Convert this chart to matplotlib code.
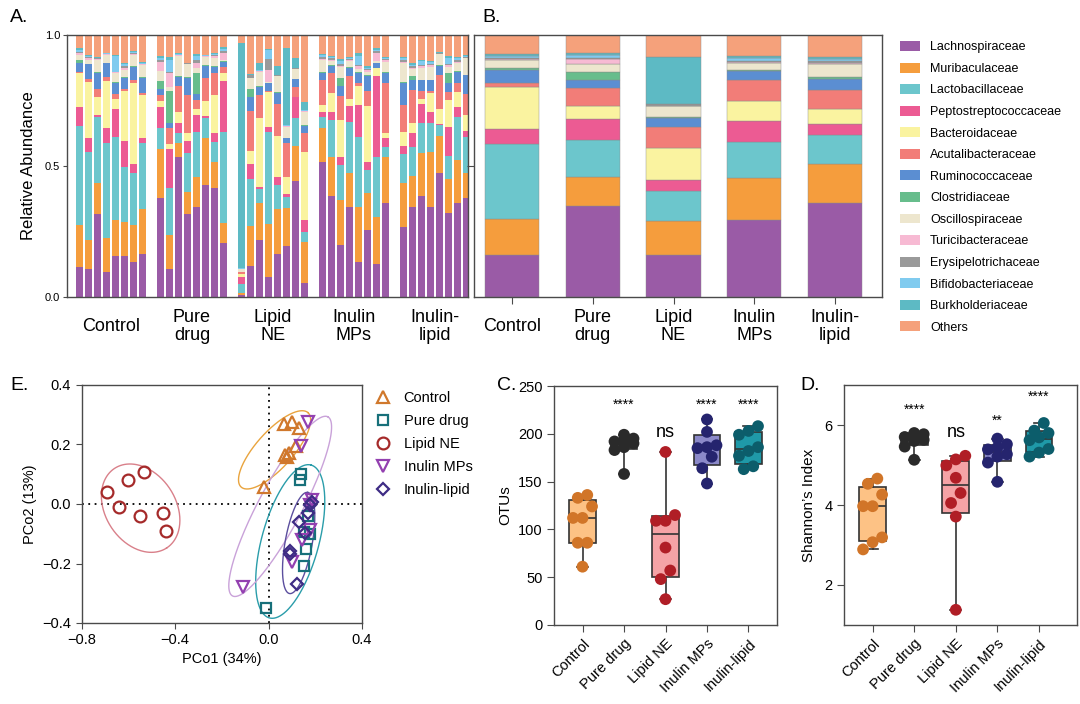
import numpy as np
import matplotlib
matplotlib.use("Agg")
import matplotlib.pyplot as plt
from matplotlib.patches import Patch
from matplotlib.lines import Line2D

plt.rcParams['font.family'] = ['Liberation Sans', 'DejaVu Sans']

# ---------------- data ----------------
families = ['Lachnospiraceae', 'Muribaculaceae', 'Lactobacillaceae', 'Peptostreptococcaceae',
            'Bacteroidaceae', 'Acutalibacteraceae', 'Ruminococcaceae', 'Clostridiaceae',
            'Oscillospiraceae', 'Turicibacteraceae', 'Erysipelotrichaceae', 'Bifidobacteriaceae',
            'Burkholderiaceae', 'Others']
fam_colors = ['#9A5BA6', '#F59D3D', '#6CC6CC', '#EC5B93', '#FAF3A0', '#F27D78', '#5B8ED2',
              '#67BD8C', '#EDE6CE', '#F7BAD3', '#9A9A9A', '#80CBEF', '#5DBAC4', '#F5A17B']

groups = ['Control', 'Pure drug', 'Lipid NE', 'Inulin MPs', 'Inulin-lipid']
groups_2line = ['Control', 'Pure\ndrug', 'Lipid\nNE', 'Inulin\nMPs', 'Inulin-\nlipid']

# A: per sample, upper edge of each family in the stack (Lachnospiraceae .. Burkholderiaceae), Others up to 1
ctrl_cum = [
    [.113, .275, .653, .726, .854, .860, .892, .905, .924, .930, .936, .942, .950],
    [.108, .218, .555, .606, .822, .831, .888, .890, .905, .911, .916, .920, .924],
    [.316, .434, .686, .695, .765, .793, .856, .858, .905, .908, .911, .914, .917],
    [.094, .224, .587, .644, .826, .841, .892, .894, .924, .926, .929, .931, .933],
    [.156, .294, .612, .716, .754, .774, .818, .820, .854, .857, .860, .918, .924],
    [.156, .288, .497, .595, .786, .795, .835, .841, .866, .875, .882, .888, .894],
    [.135, .275, .475, .506, .816, .828, .879, .881, .924, .928, .932, .936, .940],
    [.164, .335, .587, .606, .771, .777, .835, .838, .885, .888, .891, .894, .898],
]
drug_cum = [
    [.377, .564, .644, .724, .749, .771, .793, .826, .864, .896, .903, .912, .920],
    [.107, .237, .415, .565, .583, .644, .665, .788, .800, .854, .860, .905, .917],
    [.536, .587, .625, .665, .707, .805, .841, .843, .920, .922, .925, .927, .930],
    [.317, .402, .548, .595, .625, .771, .837, .839, .888, .890, .892, .893, .894],
    [.345, .459, .631, .695, .716, .752, .775, .856, .875, .894, .905, .918, .927],
    [.427, .606, .682, .691, .749, .835, .882, .884, .915, .918, .920, .922, .924],
    [.415, .517, .593, .625, .771, .854, .879, .881, .911, .920, .925, .929, .933],
    [.205, .284, .631, .826, .854, .877, .898, .900, .905, .933, .940, .948, .955],
]
lipid_cum = [
    [.008, .014, .050, .078, .087, .094, .096, .097, .106, .107, .108, .109, .968],
    [.119, .272, .451, .508, .559, .710, .764, .792, .834, .836, .847, .849, .852],
    [.218, .357, .411, .421, .682, .771, .803, .805, .860, .862, .864, .866, .894],
    [.077, .278, .630, .649, .783, .785, .817, .818, .822, .866, .910, .942, .948],
    [.164, .335, .427, .459, .614, .737, .780, .782, .843, .845, .847, .849, .882],
    [.195, .341, .383, .392, .459, .586, .606, .608, .650, .652, .654, .656, .949],
    [.444, .576, .682, .765, .765, .800, .831, .833, .869, .871, .873, .875, .911],
    [.052, .211, .249, .294, .555, .625, .654, .656, .707, .709, .711, .713, .746],
]
mps_cum = [
    [.517, .644, .686, .707, .733, .828, .856, .858, .905, .910, .916, .922, .927],
    [.387, .536, .676, .707, .777, .854, .882, .884, .902, .906, .911, .916, .920],
    [.198, .370, .504, .536, .676, .767, .805, .835, .879, .883, .888, .902, .908],
    [.345, .472, .667, .729, .754, .844, .875, .877, .902, .906, .910, .914, .917],
    [.135, .345, .612, .733, .805, .818, .855, .857, .870, .880, .885, .920, .930],
    [.256, .396, .485, .514, .729, .788, .845, .847, .860, .865, .870, .875, .880],
    [.125, .307, .536, .845, .873, .875, .892, .894, .900, .930, .938, .944, .949],
    [.358, .536, .574, .606, .625, .815, .856, .858, .898, .903, .908, .912, .915],
]
inl_cum = [
    [.266, .434, .546, .578, .631, .733, .818, .820, .892, .897, .905, .912, .917],
    [.345, .462, .574, .625, .663, .790, .828, .844, .869, .875, .880, .886, .892],
    [.386, .548, .665, .737, .754, .788, .828, .830, .873, .880, .885, .900, .905],
    [.345, .555, .665, .707, .777, .788, .828, .830, .879, .884, .890, .896, .902],
    [.475, .614, .656, .660, .716, .847, .882, .884, .927, .929, .931, .933, .936],
    [.322, .449, .538, .648, .752, .784, .815, .854, .879, .885, .890, .912, .920],
    [.358, .523, .686, .724, .784, .815, .860, .862, .892, .897, .905, .911, .917],
    [.377, .475, .612, .634, .695, .776, .847, .849, .911, .914, .917, .920, .924],
]

# B: group mean relative abundance (same family order)
mean_ctrl = [.160, .138, .287, .056, .159, .015, .053, .006, .030, .004, .004, .008, .007, .073]
mean_drug = [.349, .108, .141, .080, .051, .069, .032, .030, .029, .019, .006, .009, .007, .070]
mean_lipid = [.160, .129, .117, .042, .120, .080, .035, .003, .042, .002, .005, .003, .178, .084]
mean_mps = [.294, .159, .137, .082, .075, .083, .033, .003, .028, .004, .004, .010, .008, .080]
mean_inl = [.359, .149, .111, .040, .059, .071, .042, .009, .051, .004, .004, .008, .010, .083]

# E: PCoA coordinates
ctrl_x = [0.067, 0.100, 0.129, 0.071, 0.089, 0.119, -0.021, 0.078]
ctrl_y = [0.269, 0.277, 0.255, 0.165, 0.173, 0.195, 0.056, 0.158]
drug_x = [0.140, 0.133, 0.171, 0.150, 0.176, 0.160, 0.150, -0.010]
drug_y = [0.100, 0.079, -0.040, -0.095, -0.100, -0.152, -0.210, -0.350]
lipid_x = [-0.690, -0.600, -0.531, -0.640, -0.550, -0.453, -0.440]
lipid_y = [0.039, 0.081, 0.109, -0.011, -0.040, -0.031, -0.091]
mps_x = [0.171, 0.139, 0.186, 0.179, 0.176, 0.143, 0.100, -0.107]
mps_y = [0.274, 0.195, 0.012, -0.003, -0.089, -0.122, -0.196, -0.279]
inl_x = [0.186, 0.176, 0.129, 0.157, 0.090, 0.093, 0.121, 0.171]
inl_y = [0.008, -0.003, -0.061, -0.098, -0.159, -0.168, -0.268, -0.031]

# E: group ellipses as centre + two conjugate semi-axes
ell_ctrl = [(0.026, 0.182), (0.143, 0.125), (0.058, -0.041)]
ell_drug = [(0.093, -0.126), (0.089, 0.257), (0.118, -0.025)]
ell_lipid = [(-0.547, -0.014), (0.111, -0.134), (-0.126, -0.064)]
ell_mps = [(0.050, -0.008), (0.204, 0.301), (0.082, -0.034)]
ell_inl = [(0.129, -0.131), (0.039, 0.170), (0.057, -0.008)]

# C: OTUs
otu_ctrl = [133, 136, 124, 112, 112, 86, 86, 61]
otu_drug = [199, 195, 193, 192, 190, 186, 183, 158]
otu_lipid = [181, 109, 109, 115, 81, 57, 48, 27]
otu_mps = [215, 202, 188, 186, 185, 176, 164, 148]
otu_inl = [208, 203, 199, 186, 182, 177, 166, 163]
sig_C = ['', '****', 'ns', '****', '****']

# D: Shannon index
sh_ctrl = [4.66, 4.53, 4.26, 3.97, 3.97, 3.19, 3.07, 2.89]
sh_drug = [5.80, 5.77, 5.75, 5.70, 5.63, 5.60, 5.46, 5.13]
sh_lipid = [5.23, 5.14, 4.99, 4.68, 4.30, 4.05, 3.71, 1.38]
sh_mps = [5.66, 5.52, 5.44, 5.39, 5.27, 5.21, 5.06, 4.58]
sh_inl = [6.05, 5.86, 5.80, 5.69, 5.62, 5.40, 5.31, 5.21]
sig_D = ['', '****', 'ns', '**', '****']

# ---------------- styles ----------------
W, H = 1080, 704
spine_c = '#4a4a4a'
pc_colors = ['#D0782C', '#17707A', '#A52A2A', '#9340B0', '#3E2C85']
pc_markers = ['^', 's', 'o', 'v', 'D']
pc_msize = [8.5, 7.5, 8.5, 8.5, 6.5]
ell_colors = ['#E9A43E', '#2A9DAA', '#D9808A', '#C9A2D9', '#5B4E9E']
box_fill = ['#FDC285', '#6E6E6E', '#F5A3A6', '#8B89C9', '#1F99A8']
pt_colors = ['#D17528', '#2A2A2A', '#B01E26', '#25246E', '#0C5D6B']


def fax(l, t, r, b):
    return fig.add_axes([l / W, 1 - b / H, (r - l) / W, (b - t) / H])


def style_spines(ax):
    for s in ax.spines.values():
        s.set_color(spine_c)
        s.set_linewidth(1.0)


fig = plt.figure(figsize=(W / 100, H / 100), dpi=100)

# ---------------- A ----------------
axA = fax(67, 35, 468, 297)
for g, cum in enumerate([ctrl_cum, drug_cum, lipid_cum, mps_cum, inl_cum]):
    c = np.column_stack([np.array(cum), np.ones(len(cum))])
    hts = np.diff(c, axis=1, prepend=0)
    xs = g * 9 + np.arange(len(cum))
    for k in range(len(families)):
        axA.bar(xs, hts[:, k], bottom=c[:, k] - hts[:, k], width=0.78,
                color=fam_colors[k], edgecolor='none')
axA.set_xlim(-1.39, 43.2)
axA.set_ylim(0, 1)
axA.set_xticks([])
axA.set_yticks([0, 0.5, 1.0])
axA.set_yticklabels(['0.0', '0.5', '1.0'])
axA.tick_params(axis='y', labelsize=8, length=3, width=0.8, color=spine_c, pad=2)
axA.set_ylabel('Relative Abundance', fontsize=12, labelpad=6)
style_spines(axA)
for g, lab in enumerate(groups_2line):
    axA.text(g * 9 + 3.5, -0.112, lab, transform=axA.get_xaxis_transform(),
             ha='center', va='center', fontsize=13, linespacing=1.05)

# ---------------- B ----------------
axB = fax(474, 35, 882, 297)
means = np.array([mean_ctrl, mean_drug, mean_lipid, mean_mps, mean_inl])
bottoms = np.zeros(len(groups))
for k in range(len(families)):
    axB.bar(np.arange(len(groups)), means[:, k], bottom=bottoms, width=0.67,
            color=fam_colors[k], edgecolor='#8a8a8a', linewidth=0.3)
    bottoms += means[:, k]
axB.set_xlim(-0.47, 4.58)
axB.set_ylim(0, 1)
axB.set_xticks(range(len(groups)))
axB.set_xticklabels([])
axB.set_yticks([0.5])
axB.set_yticklabels([])
axB.tick_params(length=5, width=0.8, color=spine_c)
style_spines(axB)
for g, lab in enumerate(groups_2line):
    axB.text(g, -0.112, lab, transform=axB.get_xaxis_transform(),
             ha='center', va='center', fontsize=13, linespacing=1.05)

handles = [Patch(facecolor=c, edgecolor='none', label=f) for f, c in zip(families, fam_colors)]
fig.legend(handles=handles, loc='upper left', bbox_to_anchor=(900 / W, 1 - 41 / H),
           frameon=False, fontsize=9, handlelength=1.6, handleheight=0.85,
           labelspacing=0.74, handletextpad=0.8, borderpad=0, borderaxespad=0)

# ---------------- E ----------------
axE = fax(81.5, 385, 362, 623)
t = np.linspace(0, 2 * np.pi, 300)
for ell, col in zip([ell_ctrl, ell_drug, ell_lipid, ell_mps, ell_inl], ell_colors):
    (cx, cy), (ux, uy), (vx, vy) = ell
    axE.plot(cx + np.cos(t) * ux + np.sin(t) * vx, cy + np.cos(t) * uy + np.sin(t) * vy,
             color=col, lw=1.0)
pts = [(ctrl_x, ctrl_y), (drug_x, drug_y), (lipid_x, lipid_y), (mps_x, mps_y), (inl_x, inl_y)]
for (xs, ys), col, mk, ms in zip(pts, pc_colors, pc_markers, pc_msize):
    axE.plot(xs, ys, ls='none', marker=mk, ms=ms, mfc='none', mec=col, mew=1.6)
axE.axhline(0, color='black', ls=(0, (1, 2.5)), lw=1.3, zorder=0)
axE.axvline(0, color='black', ls=(0, (1, 2.5)), lw=1.3, zorder=0)
axE.set_xlim(-0.8, 0.4)
axE.set_ylim(-0.4, 0.4)
axE.set_xticks([-0.8, -0.4, 0.0, 0.4])
axE.set_yticks([-0.4, -0.2, 0.0, 0.2, 0.4])
axE.tick_params(labelsize=10.5, length=4, width=0.8, color=spine_c)
axE.set_xlabel('PCo1 (34%)', fontsize=10.5, labelpad=3)
axE.set_ylabel('PCo2 (13%)', fontsize=10.5, labelpad=4)
style_spines(axE)
lh = [Line2D([], [], ls='none', marker=m, ms=ms, mfc='none', mec=c, mew=1.6, label=g)
      for g, c, m, ms in zip(groups, pc_colors, pc_markers, pc_msize)]
axE.legend(handles=lh, loc='upper left', bbox_to_anchor=(1.05, 0.975), frameon=False,
           fontsize=10.5, handlelength=1.0, handletextpad=0.9, labelspacing=0.62,
           borderpad=0, borderaxespad=0)


# ---------------- C / D ----------------
def swarm(vals, ypx, xpx, diam=12.0, step=9.5, maxrow=3):
    # points within one marker height share a row (max 3), centred on the box
    vals = np.asarray(vals, float)
    order = np.argsort(vals)
    out = np.zeros(len(vals))
    row = [order[0]]
    for i in list(order[1:]) + [None]:
        if i is not None and len(row) < maxrow and (vals[i] - vals[row[0]]) / ypx < diam:
            row.append(i)
            continue
        n = len(row)
        for k, j in enumerate(row):
            out[j] = (k - (n - 1) / 2) * step * xpx
        row = [i]
    return out


def box_panel(ax, data, ypx, xpx, sig, sig_y, fs_sig):
    stats = []
    for v in data:
        q1, med, q3 = np.percentile(v, [25, 50, 75], method='weibull')
        stats.append(dict(med=med, q1=q1, q3=q3, whislo=min(v), whishi=max(v), fliers=[]))
    bp = ax.bxp(stats, positions=range(len(data)), widths=0.64, patch_artist=True,
                showfliers=False, capwidths=0.26,
                boxprops=dict(edgecolor='#333333', linewidth=1.2),
                medianprops=dict(color='#333333', linewidth=1.2),
                whiskerprops=dict(color='#333333', linewidth=1.2),
                capprops=dict(color='#333333', linewidth=1.2))
    for patch, fc in zip(bp['boxes'], box_fill):
        patch.set_facecolor(fc)
    for g, v in enumerate(data):
        ax.scatter(g + swarm(v, ypx, xpx), v, s=72, color=pt_colors[g], zorder=3,
                   edgecolors='none')
    for g, (s, y) in enumerate(zip(sig, sig_y)):
        if s:
            ax.text(g, y, s, ha='center', va='center', fontsize=fs_sig if s != 'ns' else 13)
    ax.set_xticks(range(len(groups)))
    ax.set_xticklabels(groups, rotation=45, ha='right', rotation_mode='anchor', fontsize=10.5)
    ax.tick_params(labelsize=10.5, length=5, width=0.8, color=spine_c)
    style_spines(ax)


axC = fax(554.3, 386, 776.7, 625)
axC.set_xlim(-0.68, 4.68)
axC.set_ylim(0, 250)
box_panel(axC, [otu_ctrl, otu_drug, otu_lipid, otu_mps, otu_inl], 250 / 238, 1 / 41.5,
          sig_C, [None, 230, 201, 230, 230], 10)
axC.set_yticks([0, 50, 100, 150, 200, 250])
axC.set_ylabel('OTUs', fontsize=11, labelpad=4)

axD = fax(844.3, 385, 1077.3, 625)
axD.set_xlim(-0.68, 4.92)
axD.set_ylim(1, 7)
box_panel(axD, [sh_ctrl, sh_drug, sh_lipid, sh_mps, sh_inl], 6 / 240, 1 / 41.6,
          sig_D, [None, 6.38, 5.82, 6.11, 6.70], 10)
axD.set_yticks([2, 4, 6])
axD.set_ylabel('Shannon\u2019s Index', fontsize=11, labelpad=6)

# panel letters
for x, y, s in [(10, 18, 'A.'), (482, 18, 'B.'), (10, 385, 'E.'), (497, 385, 'C.'), (800, 385, 'D.')]:
    fig.text(x / W, 1 - y / H, s, fontsize=14, va='center', ha='left')

fig.savefig('out.png', dpi=100)
